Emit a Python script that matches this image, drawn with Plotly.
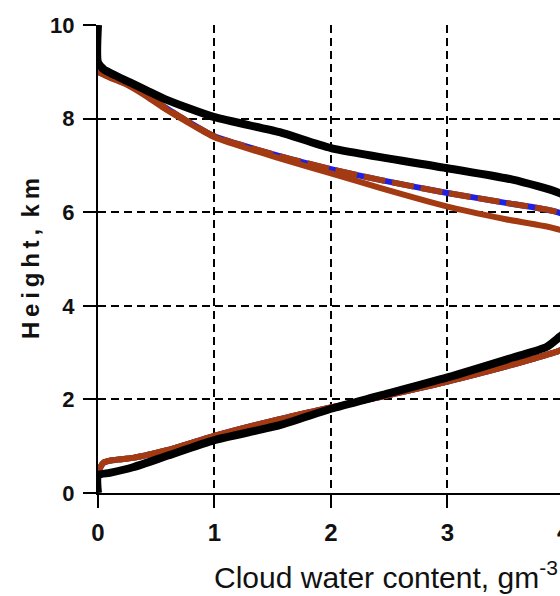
import plotly.graph_objects as go

# Cloud water content profiles (g m^-3) versus height (km)
black_height = [0.0, 0.38, 0.43, 0.55, 0.80, 1.13, 1.45, 1.80, 2.08, 2.47, 2.90, 3.12, 3.35, 3.80,
                4.50, 5.50, 6.00, 6.40, 6.70, 6.94, 7.37, 7.71, 8.03, 8.40, 8.60, 8.78, 8.92, 9.05, 9.20, 10.0]
black_cwc = [0.0, 0.0, 0.10, 0.30, 0.60, 1.00, 1.56, 2.00, 2.42, 3.00, 3.57, 3.85, 3.97, 4.20,
             4.50, 4.40, 4.20, 3.97, 3.55, 3.00, 2.00, 1.56, 1.00, 0.59, 0.42, 0.27, 0.15, 0.05, 0.0, 0.0]

brown_a_height = [0.40, 0.55, 0.65, 0.70, 0.75, 0.92, 1.22, 1.58, 1.83, 2.05, 2.38, 2.75, 2.95, 3.05, 3.50,
                  4.30, 5.00, 5.62, 5.85, 6.12, 6.52, 6.83, 7.15, 7.60, 7.95, 8.25, 8.50, 8.72, 8.88, 9.00]
brown_a_cwc = [0.0, 0.02, 0.05, 0.12, 0.30, 0.60, 1.00, 1.56, 2.00, 2.42, 3.00, 3.57, 3.85, 3.97, 4.30,
               4.60, 4.40, 3.97, 3.50, 3.00, 2.42, 2.00, 1.56, 1.00, 0.75, 0.55, 0.40, 0.25, 0.10, 0.0]

brown_b_height = [0.40, 0.55, 0.65, 0.70, 0.75, 0.92, 1.22, 1.58, 1.83, 2.05, 2.38, 2.75, 2.95, 3.05, 3.50,
                  4.30, 5.30, 5.98, 6.20, 6.41, 6.69, 6.92, 7.20, 7.62, 7.97, 8.28, 8.52, 8.74, 8.89, 9.00]
brown_b_cwc = brown_a_cwc

blue_height = brown_b_height
blue_cwc = brown_b_cwc

# axis ticks
x_major_ticks = [0, 1, 2, 3, 4]
y_major_ticks = [0, 2, 4, 6, 8, 10]
x_minor_step = 0.2
y_minor_step = 0.4

X_RANGE = [0, 3.966]
Y_RANGE = [0, 10]
PLOT_W, PLOT_H = 560 - 98, 596 - 25 - 103

BROWN = "#A33A12"
BLUE = "#2020E0"
SPLINE = dict(shape="spline", smoothing=0.6)

fig = go.Figure()
fig.add_trace(go.Scatter(x=blue_cwc, y=blue_height, mode="lines",
                         line=dict(color=BLUE, width=6, **SPLINE)))
fig.add_trace(go.Scatter(x=brown_a_cwc, y=brown_a_height, mode="lines",
                         line=dict(color=BROWN, width=6, **SPLINE)))
fig.add_trace(go.Scatter(x=brown_b_cwc, y=brown_b_height, mode="lines",
                         line=dict(color=BROWN, width=6, dash="22px,7px", **SPLINE)))
fig.add_trace(go.Scatter(x=black_cwc, y=black_height, mode="lines",
                         line=dict(color="black", width=8, **SPLINE)))

# tick marks drawn as line markers just outside the axes (13 px major, 7 px minor)
x_minor_ticks = [round(i * x_minor_step, 2) for i in range(int(4 / x_minor_step) + 1)]
y_minor_ticks = [round(i * y_minor_step, 2) for i in range(int(10 / y_minor_step) + 1)]
y_per_px = (Y_RANGE[1] - Y_RANGE[0]) / PLOT_H
x_per_px = (X_RANGE[1] - X_RANGE[0]) / PLOT_W
for length, vals in ((13, [v for v in x_minor_ticks if v in x_major_ticks]),
                     (7, [v for v in x_minor_ticks if v not in x_major_ticks])):
    fig.add_trace(go.Scatter(
        x=vals, y=[-length / 2 * y_per_px] * len(vals), mode="markers", cliponaxis=False,
        hoverinfo="skip",
        marker=dict(symbol="line-ns-open", size=length, color="black",
                    line=dict(color="black", width=2))))
for length, vals in ((13, [v for v in y_minor_ticks if v in y_major_ticks]),
                     (7, [v for v in y_minor_ticks if v not in y_major_ticks])):
    fig.add_trace(go.Scatter(
        x=[-length / 2 * x_per_px] * len(vals), y=vals, mode="markers", cliponaxis=False,
        hoverinfo="skip",
        marker=dict(symbol="line-ew-open", size=length, color="black",
                    line=dict(color="black", width=2))))

fig.update_xaxes(
    range=X_RANGE, tickmode="array", tickvals=x_major_ticks,
    showline=True, linecolor="black", linewidth=2,
    ticks="outside", ticklen=13, tickwidth=2, tickcolor="black",
    showgrid=True, gridcolor="black", gridwidth=1.5, griddash="8px,5px", zeroline=False,
    tickfont=dict(family="Liberation Sans", size=24, color="#111", weight="bold"),
    ticklabelstandoff=4,
)
fig.update_yaxes(
    range=Y_RANGE, tickmode="array", tickvals=y_major_ticks,
    showline=True, linecolor="black", linewidth=2,
    ticks="outside", ticklen=13, tickwidth=2, tickcolor="black",
    showgrid=True, gridcolor="black", gridwidth=1.5, griddash="8px,5px", zeroline=False,
    tickfont=dict(family="Liberation Sans", size=22, color="#111", weight="bold"),
    ticklabelstandoff=4,
)

fig.add_annotation(text="4", xref="paper", yref="paper", x=1.0087, y=-0.082,
                   showarrow=False, xanchor="center", yanchor="middle",
                   font=dict(family="Liberation Sans", size=24, color="#111", weight="bold"))
fig.add_annotation(text="Cloud water content, gm<sup>-3</sup>", xref="paper", yref="paper",
                   x=0.623, y=-0.175, showarrow=False, xanchor="center", yanchor="middle",
                   font=dict(family="Liberation Sans", size=30, color="#111"))
fig.add_annotation(text="H\u2009e\u2009i\u2009g\u2009h\u2009t\u2009,\u2009 k\u2009m",
                   xref="paper", yref="paper", x=-0.147, y=0.5, textangle=-90,
                   showarrow=False, xanchor="center", yanchor="middle",
                   font=dict(family="Liberation Sans", size=24, color="#111", weight="bold"))

fig.update_layout(width=560, height=596, margin=dict(l=98, r=0, t=25, b=103),
                  plot_bgcolor="white", paper_bgcolor="white", showlegend=False)

fig.write_html("out.html")
